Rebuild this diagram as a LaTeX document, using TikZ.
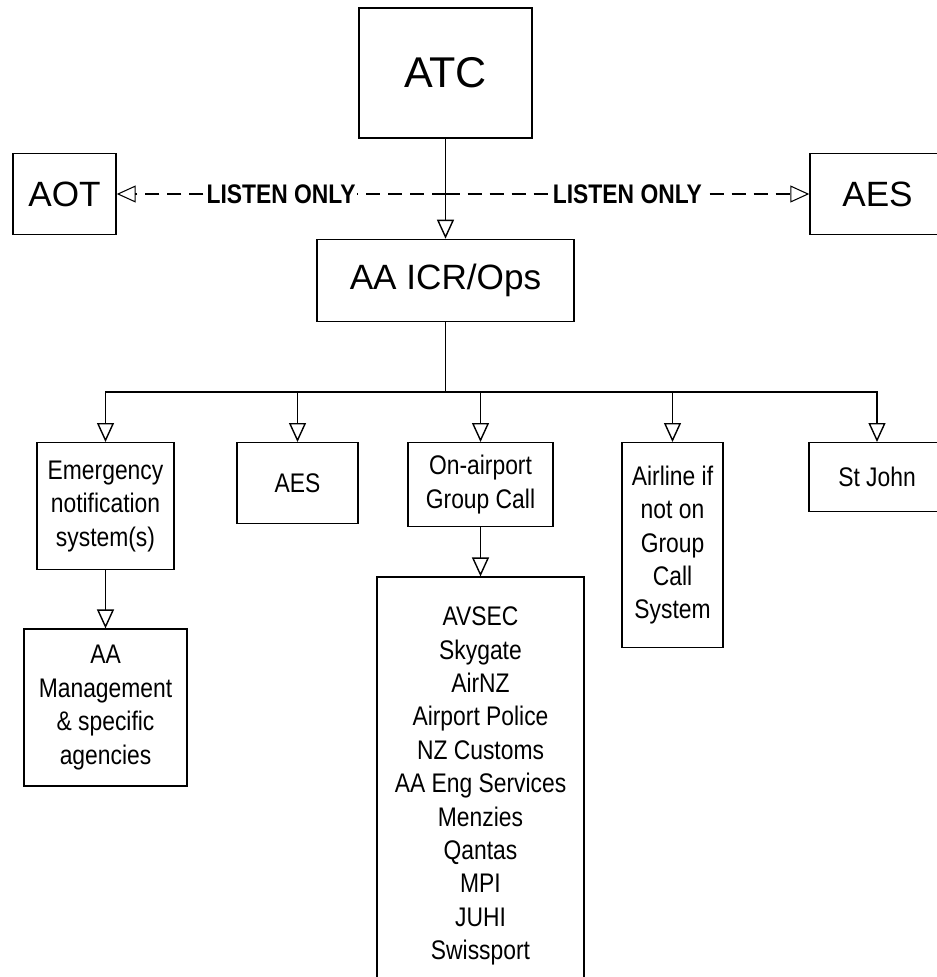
\documentclass[tikz,border=0pt]{standalone}
\usepackage{fontspec}
\setmainfont{Liberation Sans}
\newfontfamily\narrowfont[FakeStretch=0.85]{Liberation Sans}
\usetikzlibrary{positioning,arrows.meta}

\begin{document}
\begin{tikzpicture}[
                            x=0.2mm, y=-0.2mm,
                            >={Triangle[open,length=3.8mm,width=3.4mm]},
                            box/.style={draw, line width=0.8pt, inner sep=0pt, align=center},
                            bigbox/.style={box, font=\fontsize{20}{24}\selectfont},
                            smallbox/.style={box, font=\narrowfont\fontsize{15.3}{19}\selectfont},
                            link/.style={->, line width=0.8pt},
                            listen/.style={->, line width=0.6pt, dash pattern=on 2.8mm off 1.6mm},
                            listenlabel/.style={fill=white, inner sep=1pt, font=\narrowfont\bfseries\fontsize{15.3}{19}\selectfont}
                        ]
                        \useasboundingbox (0,0) rectangle (937,977);
                        % Blocks
                        \node [bigbox, minimum width=34.6mm, minimum height=26mm, font=\fontsize{24.5}{29}\selectfont] (ATC) at (445.5,73) {ATC};
                        \node [bigbox, minimum width=51.4mm, minimum height=16.4mm, below=2cm of ATC] (ICR) {AA ICR/Ops};
                        \node [bigbox, minimum width=20.6mm, minimum height=16.2mm] (AOT) at (64.5,194) {AOT};
                        \node [bigbox, minimum width=27mm, minimum height=16.2mm] (AES) at (877.5,194) {AES};

                        \node [smallbox, minimum width=27.4mm, minimum height=25.4mm, anchor=north] (EMS) at (105.5,442) {Emergency\\notification\\system(s)};
                        \node [smallbox, minimum width=24.2mm, minimum height=16.2mm, anchor=north] (AES2) at (297.5,442) {AES};
                        \node [smallbox, minimum width=29mm, minimum height=16.8mm, anchor=north] (GRP) at (480.5,442) {On-airport\\Group Call};
                        \node [smallbox, minimum width=20.2mm, minimum height=41mm, anchor=north] (AIR) at (672.5,442) {Airline if\\not on\\Group\\Call\\System};
                        \node [smallbox, minimum width=27.2mm, minimum height=13.8mm, anchor=north] (STJ) at (877,442) {St John};

                        \node [smallbox, minimum width=32.6mm, minimum height=31.4mm, below=1.16cm of EMS] (MGMT) {AA\\Management\\\& specific\\agencies};
                        \node [smallbox, minimum width=41.4mm, minimum height=83.6mm, below=0.98cm of GRP] (LIST) {AVSEC\\Skygate\\AirNZ\\Airport Police\\NZ Customs\\AA Eng Services\\Menzies\\Qantas\\MPI\\JUHI\\Swissport};

                        \coordinate (hub) at (ATC.south |- AOT.east);
                        \coordinate (bus) at (445.5,392);

                        % Connections
                        \draw [link] (ATC) -- (ICR);
                        \draw [listen] (hub) -- node[listenlabel]{LISTEN ONLY} (AOT.east);
                        \draw [listen] (hub) -- node[listenlabel]{LISTEN ONLY} (AES.west);
                        \draw [line width=0.8pt] (ICR) -- (bus);
                        \foreach \n in {EMS,AES2,GRP,AIR,STJ}
                            \draw [link] (bus) -| (\n.north);
                        \draw [link] (EMS) -- (MGMT);
                        \draw [link] (GRP.south) -- (GRP.south |- LIST.north);
                    \end{tikzpicture}
\end{document}
